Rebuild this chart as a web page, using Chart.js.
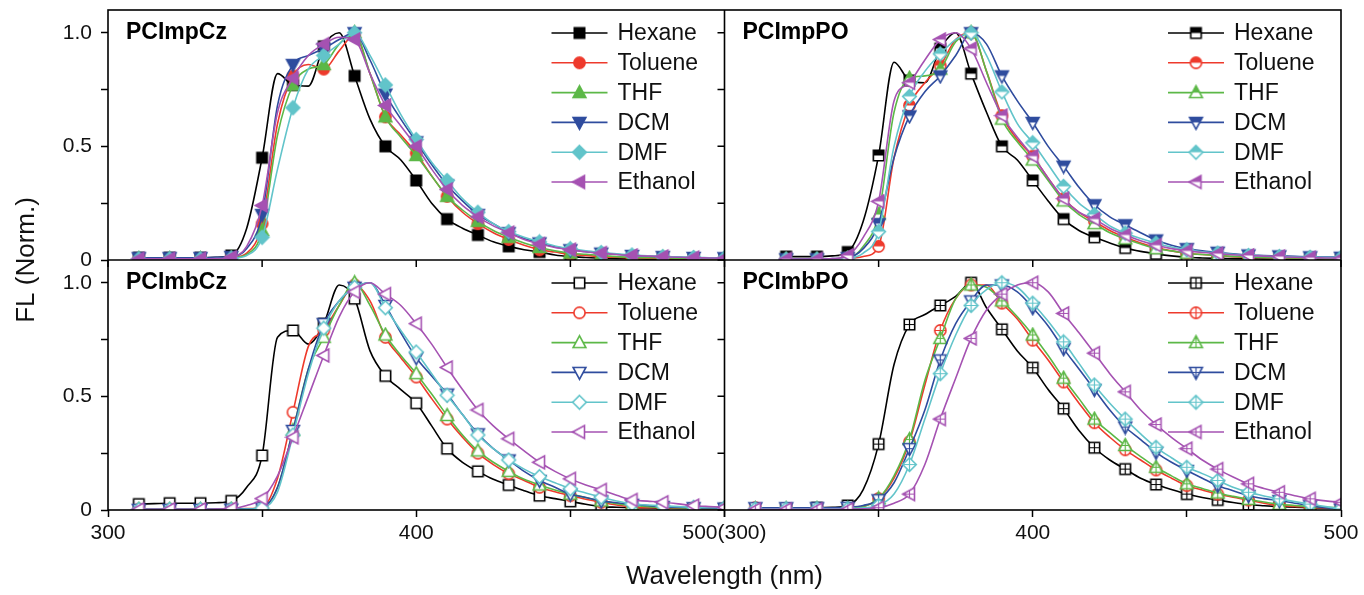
<!DOCTYPE html>
<html>
<head>
<meta charset="utf-8">
<title>FL spectra</title>
<script src="https://cdn.jsdelivr.net/npm/chart.js@4.4.1/dist/chart.umd.min.js"></script>
<style>
  html, body { margin: 0; padding: 0; background: #fff; }
  #wrap { position: relative; width: 1364px; height: 595px; }
</style>
</head>
<body>
<div id="wrap"><canvas id="flChart" width="1364" height="595"></canvas></div>
<script>
// emission wavelengths (nm), shared by every spectrum
const wavelengths = [310, 315, 320, 325, 330, 335, 340, 345, 350, 355, 360, 365, 370, 375, 380, 385, 390, 395, 400,
  405, 410, 415, 420, 425, 430, 435, 440, 445, 450, 455, 460, 465, 470, 475, 480, 485, 490, 495, 500];

const solvents = ['Hexane', 'Toluene', 'THF', 'DCM', 'DMF', 'Ethanol'];
const solventColors = ['#000000', '#ee3a2c', '#5cb847', '#2f4c9e', '#62c4ca', '#a552b2'];
const markerShapes = ['square', 'circle', 'triangle', 'triangleDown', 'diamond', 'triangleLeft'];
const panelNames = ['PCImpCz', 'PCImpPO', 'PCImbCz', 'PCImbPO'];

const xTickValues = [300, 350, 400, 450, 500];
const xTickLabelsLeft = ['300', '', '400', '', '500(300)'];
const xTickLabelsRight = ['', '', '400', '', '500'];
const yTickValues = [0, 0.25, 0.5, 0.75, 1.0];
const yTickLabels = ['0', '', '0.5', '', '1.0'];

// PCImpCz
const impCzHexane = [0.01, 0.01, 0.01, 0.01, 0.01, 0.012, 0.02, 0.14, 0.45, 0.82, 0.77, 0.765, 0.94, 1.0, 0.81, 0.62, 0.5, 0.44, 0.35,
  0.25, 0.18, 0.14, 0.11, 0.08, 0.06, 0.045, 0.035, 0.022, 0.015, 0.011, 0.008, 0.006, 0.005, 0.004, 0.004, 0.003, 0.003, 0.002, 0.002];
const impCzToluene = [0.005, 0.005, 0.005, 0.005, 0.005, 0.006, 0.01, 0.03, 0.16, 0.6, 0.81, 0.86, 0.84, 0.92, 0.99, 0.82, 0.63, 0.55, 0.47,
  0.37, 0.28, 0.21, 0.16, 0.12, 0.09, 0.065, 0.045, 0.035, 0.025, 0.02, 0.015, 0.012, 0.01, 0.008, 0.007, 0.006, 0.005, 0.005, 0.004];
const impCzTHF = [0.005, 0.005, 0.005, 0.005, 0.005, 0.006, 0.01, 0.025, 0.13, 0.55, 0.77, 0.84, 0.86, 0.95, 1.0, 0.82, 0.63, 0.54, 0.46,
  0.37, 0.28, 0.22, 0.17, 0.13, 0.1, 0.075, 0.055, 0.04, 0.03, 0.025, 0.02, 0.015, 0.012, 0.01, 0.01, 0.008, 0.008, 0.006, 0.005];
const impCzDCM = [0.01, 0.01, 0.01, 0.01, 0.01, 0.012, 0.015, 0.05, 0.2, 0.68, 0.86, 0.9, 0.93, 0.97, 1.0, 0.88, 0.73, 0.62, 0.52,
  0.42, 0.33, 0.26, 0.2, 0.16, 0.12, 0.095, 0.075, 0.058, 0.045, 0.037, 0.03, 0.025, 0.02, 0.017, 0.015, 0.013, 0.011, 0.01, 0.01];
const impCzDMF = [0.005, 0.005, 0.005, 0.005, 0.005, 0.006, 0.008, 0.02, 0.1, 0.4, 0.67, 0.84, 0.9, 0.95, 1.0, 0.9, 0.77, 0.64, 0.53,
  0.43, 0.35, 0.27, 0.21, 0.16, 0.125, 0.1, 0.08, 0.062, 0.05, 0.04, 0.033, 0.027, 0.022, 0.018, 0.015, 0.013, 0.011, 0.01, 0.009];
const impCzEthanol = [0.005, 0.005, 0.005, 0.005, 0.005, 0.006, 0.012, 0.06, 0.24, 0.65, 0.8, 0.9, 0.95, 0.98, 0.97, 0.82, 0.68, 0.59, 0.5,
  0.4, 0.31, 0.24, 0.19, 0.15, 0.12, 0.09, 0.07, 0.055, 0.045, 0.036, 0.03, 0.024, 0.02, 0.017, 0.015, 0.012, 0.01, 0.009, 0.008];

// PCImpPO (recorded from 320 nm)
const impPOHexane = [null, null, 0.015, 0.015, 0.015, 0.018, 0.035, 0.17, 0.46, 0.87, 0.79, 0.78, 0.93, 1.0, 0.82, 0.65, 0.5, 0.44, 0.35,
  0.26, 0.18, 0.13, 0.1, 0.075, 0.053, 0.038, 0.027, 0.018, 0.012, 0.009, 0.007, 0.006, 0.005, 0.004, 0.004, 0.003, 0.003, 0.002, 0.002];
const impPOToluene = [null, null, 0.003, 0.003, 0.003, 0.003, 0.005, 0.015, 0.06, 0.45, 0.68, 0.78, 0.855, 0.97, 1.0, 0.83, 0.635, 0.53, 0.457,
  0.36, 0.27, 0.21, 0.17, 0.13, 0.1, 0.075, 0.055, 0.04, 0.03, 0.024, 0.02, 0.015, 0.012, 0.011, 0.01, 0.009, 0.008, 0.006, 0.005];
const impPOTHF = [null, null, 0.003, 0.003, 0.003, 0.004, 0.008, 0.06, 0.2, 0.65, 0.8, 0.81, 0.84, 0.96, 1.0, 0.83, 0.62, 0.52, 0.44,
  0.35, 0.26, 0.2, 0.16, 0.12, 0.093, 0.07, 0.05, 0.04, 0.03, 0.024, 0.02, 0.016, 0.013, 0.011, 0.01, 0.009, 0.008, 0.006, 0.005];
const impPODCM = [null, null, 0.005, 0.005, 0.005, 0.006, 0.01, 0.05, 0.16, 0.45, 0.634, 0.74, 0.81, 0.9, 1.0, 0.95, 0.81, 0.7, 0.605,
  0.5, 0.413, 0.32, 0.243, 0.19, 0.155, 0.12, 0.088, 0.065, 0.05, 0.04, 0.034, 0.027, 0.022, 0.02, 0.018, 0.016, 0.014, 0.013, 0.012];
const impPODMF = [null, null, 0.004, 0.004, 0.004, 0.005, 0.008, 0.03, 0.125, 0.5, 0.72, 0.83, 0.907, 0.97, 1.0, 0.9, 0.74, 0.6, 0.516,
  0.42, 0.324, 0.25, 0.2, 0.15, 0.118, 0.095, 0.074, 0.057, 0.045, 0.036, 0.03, 0.025, 0.02, 0.017, 0.015, 0.013, 0.012, 0.011, 0.01];
const impPOEthanol = [null, null, 0.004, 0.004, 0.004, 0.006, 0.02, 0.1, 0.258, 0.7, 0.78, 0.88, 0.97, 1.0, 0.93, 0.78, 0.635, 0.54, 0.457,
  0.36, 0.27, 0.21, 0.18, 0.14, 0.11, 0.085, 0.065, 0.05, 0.04, 0.033, 0.028, 0.023, 0.02, 0.017, 0.015, 0.012, 0.01, 0.009, 0.008];

// PCImbCz
const imbCzHexane = [0.026, 0.028, 0.03, 0.03, 0.03, 0.032, 0.04, 0.1, 0.24, 0.76, 0.79, 0.73, 0.82, 0.99, 0.93, 0.7, 0.59, 0.53, 0.47,
  0.37, 0.27, 0.21, 0.17, 0.135, 0.11, 0.085, 0.063, 0.05, 0.038, 0.025, 0.015, 0.012, 0.01, 0.009, 0.008, 0.007, 0.006, 0.005, 0.005];
const imbCzToluene = [0.003, 0.003, 0.003, 0.003, 0.003, 0.003, 0.004, 0.006, 0.01, 0.14, 0.43, 0.72, 0.79, 0.9, 0.99, 0.92, 0.76, 0.67, 0.585,
  0.49, 0.4, 0.32, 0.25, 0.2, 0.16, 0.13, 0.1, 0.08, 0.063, 0.047, 0.034, 0.022, 0.012, 0.01, 0.01, 0.009, 0.008, 0.006, 0.005];
const imbCzTHF = [0.003, 0.003, 0.003, 0.003, 0.003, 0.003, 0.004, 0.005, 0.01, 0.1, 0.35, 0.62, 0.76, 0.9, 1.0, 0.9, 0.77, 0.68, 0.6,
  0.51, 0.416, 0.33, 0.26, 0.21, 0.17, 0.135, 0.11, 0.088, 0.07, 0.055, 0.04, 0.028, 0.02, 0.015, 0.012, 0.01, 0.008, 0.007, 0.006];
const imbCzDCM = [0.003, 0.003, 0.003, 0.003, 0.003, 0.003, 0.004, 0.005, 0.01, 0.1, 0.35, 0.62, 0.82, 0.92, 0.98, 1.0, 0.9, 0.78, 0.67,
  0.59, 0.51, 0.42, 0.335, 0.27, 0.22, 0.17, 0.13, 0.1, 0.07, 0.055, 0.04, 0.032, 0.025, 0.02, 0.015, 0.012, 0.01, 0.009, 0.008];
const imbCzDMF = [0.003, 0.003, 0.003, 0.003, 0.003, 0.003, 0.003, 0.004, 0.008, 0.08, 0.33, 0.6, 0.8, 0.92, 0.98, 1.0, 0.89, 0.79, 0.695,
  0.6, 0.505, 0.42, 0.33, 0.27, 0.22, 0.18, 0.147, 0.12, 0.093, 0.075, 0.056, 0.04, 0.026, 0.022, 0.018, 0.015, 0.012, 0.011, 0.01];
const imbCzEthanol = [0.003, 0.003, 0.003, 0.003, 0.003, 0.004, 0.006, 0.02, 0.05, 0.15, 0.32, 0.5, 0.68, 0.85, 0.96, 1.0, 0.95, 0.9, 0.82,
  0.73, 0.627, 0.53, 0.44, 0.37, 0.313, 0.26, 0.21, 0.17, 0.137, 0.11, 0.088, 0.065, 0.044, 0.039, 0.034, 0.027, 0.019, 0.015, 0.012];

// PCImbPO
const imbPOHexane = [null, null, 0.005, 0.006, 0.01, 0.012, 0.02, 0.09, 0.29, 0.64, 0.816, 0.86, 0.9, 0.94, 1.0, 0.89, 0.795, 0.7, 0.626,
  0.53, 0.446, 0.35, 0.274, 0.22, 0.18, 0.14, 0.112, 0.09, 0.07, 0.055, 0.044, 0.033, 0.024, 0.019, 0.015, 0.012, 0.01, 0.009, 0.008];
const imbPOToluene = [0.01, 0.006, 0.005, 0.005, 0.005, 0.005, 0.006, 0.015, 0.05, 0.14, 0.3, 0.55, 0.79, 0.93, 0.99, 0.99, 0.91, 0.84, 0.747,
  0.66, 0.563, 0.47, 0.384, 0.32, 0.265, 0.22, 0.176, 0.14, 0.107, 0.088, 0.07, 0.056, 0.044, 0.03, 0.02, 0.016, 0.012, 0.01, 0.008];
const imbPOTHF = [0.005, 0.005, 0.005, 0.005, 0.005, 0.005, 0.006, 0.015, 0.05, 0.15, 0.31, 0.57, 0.755, 0.93, 0.99, 0.98, 0.92, 0.85, 0.77,
  0.68, 0.58, 0.49, 0.4, 0.34, 0.284, 0.235, 0.188, 0.15, 0.115, 0.095, 0.075, 0.06, 0.047, 0.035, 0.025, 0.02, 0.015, 0.012, 0.01];
const imbPODCM = [0.01, 0.01, 0.01, 0.01, 0.01, 0.01, 0.012, 0.02, 0.045, 0.12, 0.27, 0.44, 0.66, 0.82, 0.92, 0.99, 0.99, 0.96, 0.89,
  0.81, 0.71, 0.62, 0.53, 0.44, 0.365, 0.31, 0.254, 0.21, 0.174, 0.14, 0.107, 0.085, 0.063, 0.05, 0.041, 0.03, 0.019, 0.01, 0.004];
const imbPODMF = [0.005, 0.005, 0.005, 0.005, 0.005, 0.005, 0.006, 0.01, 0.02, 0.07, 0.2, 0.4, 0.6, 0.77, 0.9, 0.97, 1.0, 0.98, 0.91,
  0.83, 0.74, 0.645, 0.55, 0.47, 0.4, 0.335, 0.276, 0.23, 0.188, 0.16, 0.13, 0.1, 0.078, 0.062, 0.049, 0.037, 0.026, 0.015, 0.005];
const imbPOEthanol = [0.003, 0.003, 0.003, 0.003, 0.003, 0.003, 0.003, 0.005, 0.01, 0.03, 0.07, 0.2, 0.4, 0.58, 0.755, 0.88, 0.95, 0.99, 1.0,
  0.96, 0.865, 0.78, 0.69, 0.6, 0.52, 0.44, 0.376, 0.32, 0.27, 0.22, 0.18, 0.145, 0.115, 0.095, 0.078, 0.063, 0.049, 0.04, 0.034];

const FONT = '"Liberation Sans", Arial, Helvetica, sans-serif';

// build a small canvas used as a point style
function makeMarker(shape, color, fill) {
  const size = 17;
  const c = document.createElement('canvas');
  c.width = size; c.height = size;
  const g = c.getContext('2d');
  g.translate(size / 2, size / 2);
  const path = () => {
    g.beginPath();
    switch (shape) {
      case 'square': g.rect(-5.2, -5.2, 10.4, 10.4); break;
      case 'circle': g.arc(0, 0, 5.6, 0, Math.PI * 2); break;
      case 'triangle': g.moveTo(0, -6.8); g.lineTo(6.4, 5); g.lineTo(-6.4, 5); g.closePath(); break;
      case 'triangleDown': g.moveTo(0, 6.8); g.lineTo(6.4, -5); g.lineTo(-6.4, -5); g.closePath(); break;
      case 'diamond': g.moveTo(0, -6.8); g.lineTo(6.8, 0); g.lineTo(0, 6.8); g.lineTo(-6.8, 0); g.closePath(); break;
      case 'triangleLeft': g.moveTo(-6.8, 0); g.lineTo(5, -6.4); g.lineTo(5, 6.4); g.closePath(); break;
    }
  };
  g.lineWidth = 1.6;
  g.strokeStyle = color;
  path();
  g.fillStyle = fill === 'solid' ? color : '#ffffff';
  g.fill();
  if (fill === 'half') {
    g.save();
    g.beginPath(); g.rect(-9, -9, 18, 9); g.clip();
    path(); g.fillStyle = color; g.fill();
    g.restore();
  }
  if (fill === 'plus') {
    g.save();
    path(); g.clip();
    g.beginPath();
    g.moveTo(-7, 0); g.lineTo(7, 0);
    g.moveTo(0, -7); g.lineTo(0, 7);
    g.lineWidth = 1.2; g.stroke();
    g.restore();
  }
  path(); g.stroke();
  return c;
}

const panels = [
  { name: panelNames[0], xAxis: 'xL', yAxis: 'yT', fill: 'solid',
    series: [impCzHexane, impCzToluene, impCzTHF, impCzDCM, impCzDMF, impCzEthanol] },
  { name: panelNames[1], xAxis: 'xR', yAxis: 'yT', fill: 'half',
    series: [impPOHexane, impPOToluene, impPOTHF, impPODCM, impPODMF, impPOEthanol] },
  { name: panelNames[2], xAxis: 'xL', yAxis: 'yB', fill: 'open',
    series: [imbCzHexane, imbCzToluene, imbCzTHF, imbCzDCM, imbCzDMF, imbCzEthanol] },
  { name: panelNames[3], xAxis: 'xR', yAxis: 'yB', fill: 'plus',
    series: [imbPOHexane, imbPOToluene, imbPOTHF, imbPODCM, imbPODMF, imbPOEthanol] }
];

const datasets = [];
panels.forEach((p, pi) => {
  p.markers = markerShapes.map((s, si) => makeMarker(s, solventColors[si], p.fill));
  p.series.forEach((vals, si) => {
    datasets.push({
      label: solvents[si],
      panel: pi,
      data: wavelengths.map((w, i) => ({ x: w, y: vals[i] })),
      xAxisID: p.xAxis,
      yAxisID: p.yAxis,
      borderColor: solventColors[si],
      backgroundColor: solventColors[si],
      borderWidth: 1.6,
      pointStyle: p.markers[si],
      // a marker every 10 nm
      pointRadius: ctx => (ctx.raw && ctx.raw.x % 10 === 0 ? 6 : 0),
      pointHoverRadius: 0,
      cubicInterpolationMode: 'monotone',
      order: 5 - si
    });
  });
});

function xScale(labels) {
  return {
    type: 'linear', position: 'bottom', stack: 'wl', stackWeight: 1,
    min: 300, max: 500,
    afterFit: s => { s.height = 85; s.paddingLeft = 0; s.paddingRight = 0; },
    afterBuildTicks: s => { s.ticks = xTickValues.map(v => ({ value: v })); },
    grid: { drawOnChartArea: false, drawTicks: true, tickLength: 7, tickWidth: 1.5, tickColor: '#000' },
    border: { display: false },
    ticks: {
      autoSkip: false, maxRotation: 0, minRotation: 0, padding: 4, color: '#111',
      font: { family: FONT, size: 21 },
      callback: (v, i) => labels[i]
    }
  };
}

function yScale() {
  return {
    type: 'linear', position: 'left', stack: 'fl', stackWeight: 1,
    min: 0, max: 1.1,
    afterFit: s => { s.width = 108; s.paddingTop = 0; s.paddingBottom = 0; },
    afterBuildTicks: s => { s.ticks = yTickValues.map(v => ({ value: v })); },
    grid: { drawOnChartArea: false, drawTicks: true, tickLength: 7, tickWidth: 1.5, tickColor: '#000' },
    border: { display: false },
    ticks: {
      padding: 9, color: '#111',
      font: { family: FONT, size: 21 },
      callback: (v, i) => yTickLabels[i]
    }
  };
}

// frames, inner ticks, panel names, legends and axis titles
const panelDecor = {
  id: 'panelDecor',
  afterDraw(chart) {
    const ctx = chart.ctx;
    const { left, right, top, bottom } = chart.chartArea;
    const { xL, xR, yT, yB } = chart.scales;
    const midX = xR.left;
    const midY = yT.bottom;

    ctx.save();
    ctx.strokeStyle = '#000';
    ctx.lineWidth = 1.6;
    ctx.strokeRect(left, top, right - left, bottom - top);
    ctx.beginPath();
    ctx.moveTo(midX, top); ctx.lineTo(midX, bottom);
    ctx.moveTo(left, midY); ctx.lineTo(right, midY);
    ctx.stroke();

    // ticks on the shared edges
    ctx.lineWidth = 1.5;
    ctx.beginPath();
    xTickValues.forEach(v => {
      [xL, xR].forEach(sc => {
        const px = sc.getPixelForValue(v);
        ctx.moveTo(px, midY); ctx.lineTo(px, midY + 7);
      });
    });
    yTickValues.forEach(v => {
      [yT, yB].forEach(sc => {
        const py = sc.getPixelForValue(v);
        ctx.moveTo(midX, py); ctx.lineTo(midX - 7, py);
      });
    });
    ctx.stroke();

    panels.forEach((p, pi) => {
      const xs = chart.scales[p.xAxis];
      const ys = chart.scales[p.yAxis];
      ctx.fillStyle = '#000';
      ctx.font = 'bold 23px ' + FONT;
      ctx.textAlign = 'left';
      ctx.textBaseline = 'middle';
      ctx.fillText(p.name, xs.left + 18, ys.top + 23);

      const lx1 = xs.right - 173;
      const lx2 = xs.right - 117;
      ctx.font = '23px ' + FONT;
      datasets.filter(d => d.panel === pi).forEach((d, si) => {
        const ry = ys.top + 23 + si * 29.8;
        ctx.strokeStyle = d.borderColor;
        ctx.lineWidth = 1.6;
        ctx.beginPath(); ctx.moveTo(lx1, ry); ctx.lineTo(lx2, ry); ctx.stroke();
        const m = d.pointStyle;
        ctx.drawImage(m, (lx1 + lx2) / 2 - m.width / 2, ry - m.height / 2);
        ctx.fillStyle = '#111';
        ctx.fillText(d.label, lx2 + 10, ry + 1);
      });
    });

    ctx.fillStyle = '#111';
    ctx.font = '26px ' + FONT;
    ctx.textAlign = 'center';
    ctx.textBaseline = 'middle';
    ctx.fillText('Wavelength (nm)', midX, 577);
    ctx.translate(27, midY);
    ctx.rotate(-Math.PI / 2);
    ctx.fillText('FL (Norm.)', 0, 0);
    ctx.restore();
  }
};

new Chart(document.getElementById('flChart').getContext('2d'), {
  type: 'line',
  data: { datasets },
  options: {
    responsive: false,
    animation: false,
    events: [],
    layout: { padding: { top: 10, right: 23, left: 0, bottom: 0 } },
    plugins: { legend: { display: false }, tooltip: { enabled: false } },
    scales: {
      xL: xScale(xTickLabelsLeft),
      xR: xScale(xTickLabelsRight),
      // left boxes stack last-first, so the lower panel is listed first
      yB: yScale(),
      yT: yScale()
    }
  },
  plugins: [panelDecor]
});
</script>
</body>
</html>
